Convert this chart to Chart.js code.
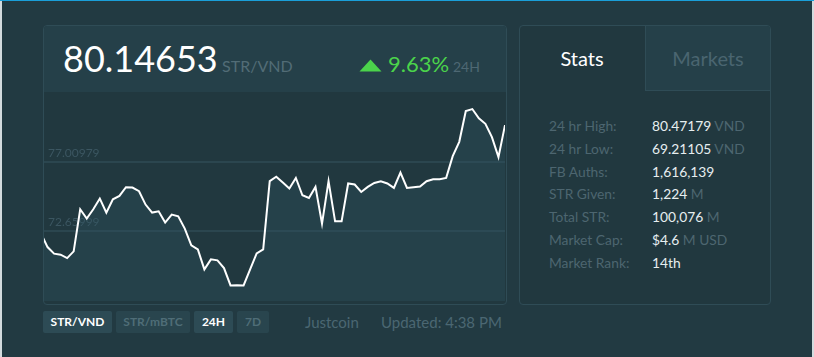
<!DOCTYPE html>
<html>
<head>
<meta charset="utf-8">
<script src="https://cdn.jsdelivr.net/npm/chart.js@4"></script>
<style>
  html, body { margin:0; padding:0; }
  body { width:814px; height:357px; background:#223a42; position:relative; overflow:hidden; font-family:Lato, "Open Sans", sans-serif; }
  .abs { position:absolute; white-space:nowrap; line-height:1.2; }
  #topbar { position:absolute; left:0; top:0; width:814px; height:1px; background:#1a9fd9; }
  #ledge { position:absolute; left:0; top:1px; width:2px; height:356px; background:#d3dbde; }
  #redge { position:absolute; left:812px; top:1px; width:2px; height:356px; background:#d3dbde; }
  #panel { position:absolute; left:43px; top:25px; width:464px; height:280px; box-sizing:border-box; border:1px solid #2f4c56; border-radius:4px; overflow:hidden; background:#21383f; }
  #phead { position:absolute; left:0; top:0; width:462px; height:66px; background:#254049; }
  #chartwrap { position:absolute; left:-3px; top:66px; width:464px; height:209px; }
  #side { position:absolute; left:519px; top:25px; width:252px; height:280px; box-sizing:border-box; border:1px solid #2f4c56; border-radius:4px; overflow:hidden; background:#21383f; }
  #tab2 { position:absolute; left:125px; top:0; width:127px; height:65px; box-sizing:border-box; background:#254049; border-left:1px solid #2f4c56; border-bottom:1px solid #2f4c56; }
  .lbl { color:#4d6670; font-size:13.8px; }
  .val { color:#e6eef0; font-size:13.8px; }
  .unit { color:#4d6670; }
  .btn { position:absolute; top:311px; height:22px; border-radius:2px; font-size:12px; font-weight:bold; text-align:center; line-height:22px; }
</style>
</head>
<body>
<div id="topbar"></div>
<div id="ledge"></div>
<div id="redge"></div>

<div id="panel">
  <div id="phead"></div>
  <div id="chartwrap"><canvas id="c" width="464" height="209"></canvas></div>
</div>

<div class="abs" style="left:63px; top:36.5px; font-size:36px; color:#ffffff;">80.14653</div>
<div class="abs" style="left:222px; top:56.2px; font-size:16px; color:#526c76;">STR/VND</div>
<svg style="position:absolute; left:359px; top:59px;" width="23" height="13"><polygon points="11.5,0.5 22.5,12.5 0.5,12.5" fill="#4bd34b"/></svg>
<div class="abs" style="left:388px; top:51px; font-size:22px; color:#4bd34b;">9.63%</div>
<div class="abs" style="left:453px; top:58.7px; font-size:14px; color:#4e6873;">24H</div>

<div id="side">
  <div id="tab2"></div>
</div>
<div class="abs" style="left:519px; width:126px; text-align:center; top:46.3px; font-size:20px; color:#ffffff;">Stats</div>
<div class="abs" style="left:645px; width:126px; text-align:center; top:46.3px; font-size:20px; color:#4a6570;">Markets</div>

<div class="abs lbl" style="left:549px; top:117.9px;">24 hr High:</div>
<div class="abs val" style="left:652px; top:117.9px;">80.47179 <span class="unit">VND</span></div>
<div class="abs lbl" style="left:549px; top:140.7px;">24 hr Low:</div>
<div class="abs val" style="left:652px; top:140.7px;">69.21105 <span class="unit">VND</span></div>
<div class="abs lbl" style="left:549px; top:163.5px;">FB Auths:</div>
<div class="abs val" style="left:652px; top:163.5px;">1,616,139</div>
<div class="abs lbl" style="left:549px; top:186.3px;">STR Given:</div>
<div class="abs val" style="left:652px; top:186.3px;">1,224 <span class="unit">M</span></div>
<div class="abs lbl" style="left:549px; top:209.1px;">Total STR:</div>
<div class="abs val" style="left:652px; top:209.1px;">100,076 <span class="unit">M</span></div>
<div class="abs lbl" style="left:549px; top:231.9px;">Market Cap:</div>
<div class="abs val" style="left:652px; top:231.9px;">$4.6 <span class="unit">M USD</span></div>
<div class="abs lbl" style="left:549px; top:254.7px;">Market Rank:</div>
<div class="abs val" style="left:652px; top:254.7px;">14th</div>

<div class="btn" style="left:43px; width:69px; background:#2d4b55; color:#ffffff;">STR/VND</div>
<div class="btn" style="left:116px; width:74px; background:#29454e; color:#4f6d77;">STR/mBTC</div>
<div class="btn" style="left:194px; width:39px; background:#2d4b55; color:#ffffff;">24H</div>
<div class="btn" style="left:237px; width:32px; background:#29454e; color:#4f6d77;">7D</div>
<div class="abs" style="left:305px; top:312.9px; font-size:15px; color:#4b6772;">Justcoin</div>
<div class="abs" style="left:381px; top:312.9px; font-size:15px; color:#4b6772;">Updated: 4:38 PM</div>

<script>
const timeLabels = ["16:40","17:00","17:20","17:40","18:00","18:20","18:40","19:00","19:20","19:40","20:00","20:20","20:40","21:00","21:20","21:40","22:00","22:20","22:40","23:00","23:20","23:40","00:00","00:20","00:40","01:00","01:20","01:40","02:00","02:20","02:40","03:00","03:20","03:40","04:00","04:20","04:40","05:00","05:20","05:40","06:00","06:20","06:40","07:00","07:20","07:40","08:00","08:20","08:40","09:00","09:20","09:40","10:00","10:20","10:40","11:00","11:20","11:40","12:00","12:20","12:40","13:00","13:20","13:40","14:00","14:20","14:40","15:00","15:20","15:40","16:00","16:20"];

const prices = [72.536,71.678,71.265,71.203,70.990,71.409,74.037,73.455,74.037,74.707,
  73.831,74.663,74.870,75.414,75.395,75.164,74.331,73.831,73.912,73.205,
  73.706,73.599,72.830,71.785,71.534,70.283,70.909,70.846,70.364,69.282,
  69.300,69.282,70.283,71.284,71.534,75.796,76.071,75.708,75.333,75.996,
  74.914,74.745,75.433,73.143,75.790,73.287,73.287,75.646,75.583,75.120,
  75.433,75.683,75.790,75.646,75.370,76.334,75.370,75.414,75.458,75.790,
  75.915,75.915,75.996,77.354,78.249,80.170,80.295,79.713,79.375,78.543,
  77.292,79.294];

const yTickValues = [68.31019, 72.65999, 77.00979, 81.35959];
const yTickLabels = ["", "72.65999", "77.00979", ""];

new Chart(document.getElementById('c'), {
  type: 'line',
  data: {
    labels: timeLabels,
    datasets: [{
      data: prices,
      borderColor: '#ffffff',
      borderWidth: 2,
      pointRadius: 0,
      tension: 0,
      fill: 'start',
      backgroundColor: 'rgba(46,86,100,0.3)'
    }]
  },
  options: {
    responsive: false,
    animation: false,
    events: [],
    layout: { padding: 0 },
    plugins: { legend: { display: false }, tooltip: { enabled: false } },
    scales: {
      x: { display: false, offset: false },
      y: {
        min: yTickValues[0],
        max: yTickValues[yTickValues.length - 1],
        afterBuildTicks: s => { s.ticks = yTickValues.map(v => ({ value: v })); },
        afterFit: s => { s.width = 0; s.paddingTop = 0; s.paddingBottom = 0; },
        border: { display: false },
        grid: {
          drawTicks: false,
          lineWidth: 2,
          color: ctx => (ctx.index === 0 || ctx.index === yTickValues.length - 1) ? 'rgba(0,0,0,0)' : '#2b464f'
        },
        ticks: {
          mirror: true,
          padding: 7,
          labelOffset: -9,
          color: '#3b5661',
          font: { family: 'Lato', size: 12 },
          callback: (v, i) => yTickLabels[i]
        }
      }
    }
  }
});
</script>
</body>
</html>
